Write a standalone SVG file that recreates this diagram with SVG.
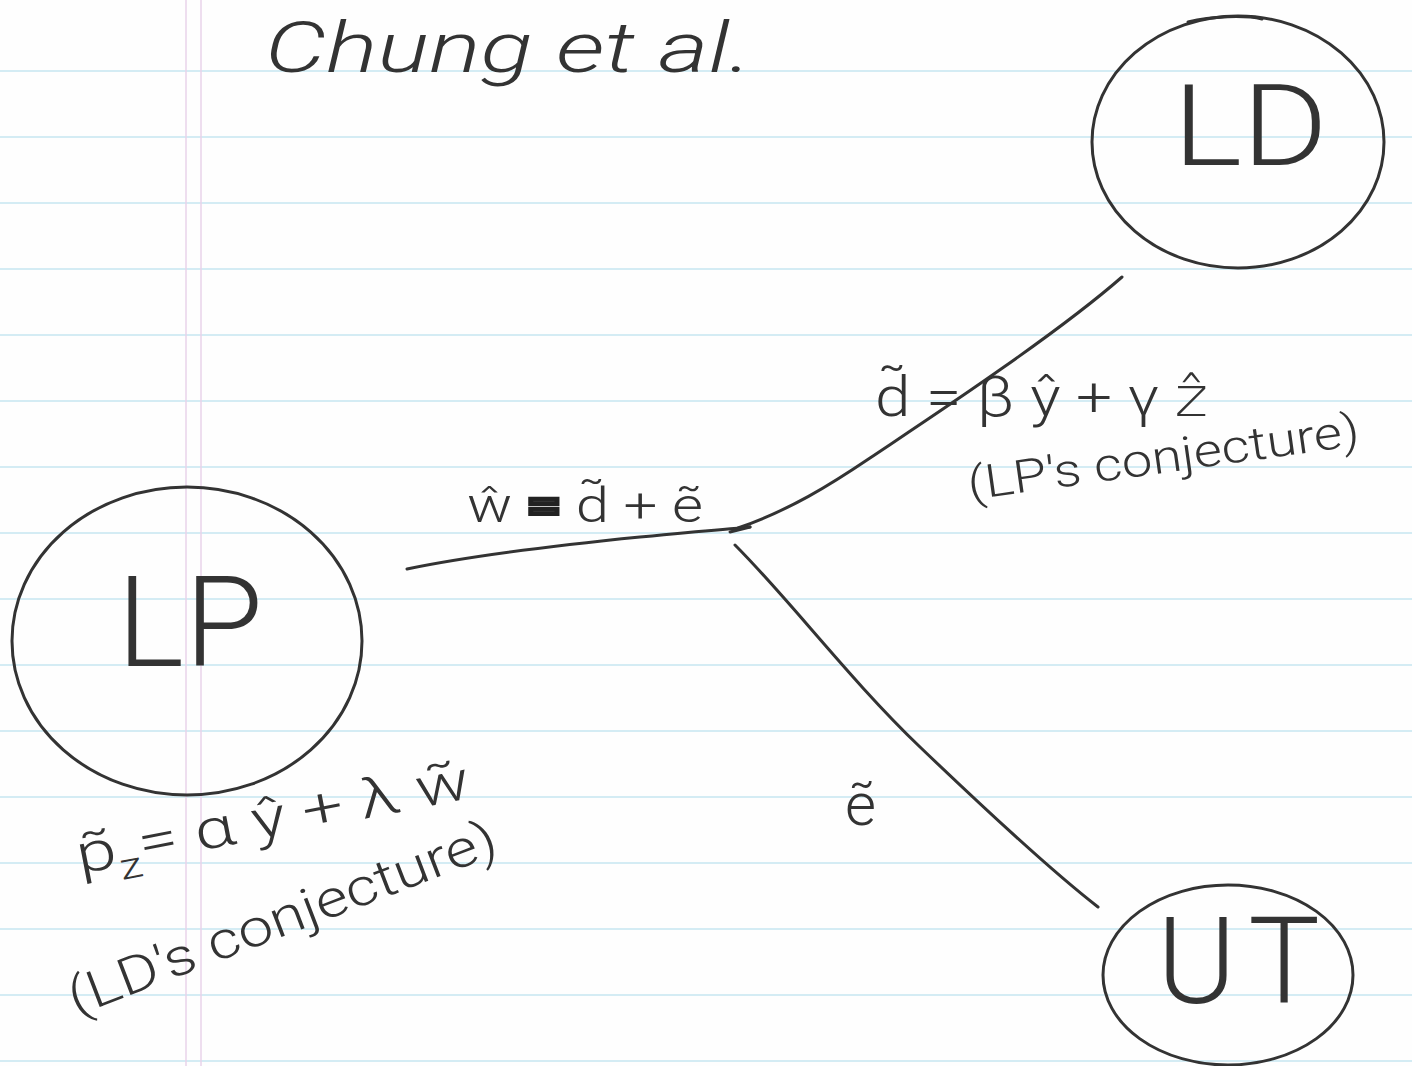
<svg xmlns="http://www.w3.org/2000/svg" width="1412" height="1066" viewBox="0 0 1412 1066">
  <style>
    .rule { stroke: #c6e6f0; stroke-width: 1.5; }
    .margin { stroke: #e8d3ea; stroke-width: 1.5; }
    .ink { fill: none; stroke: #333; stroke-width: 3; stroke-linecap: round; stroke-linejoin: round; }
    .hand { font-family: Roboto, "DejaVu Sans", sans-serif; font-weight: 300; fill: #333; }
  </style>
  <rect width="1412" height="1066" fill="#fefefe"/>
  <g id="paper">
    <line class="rule" x1="0" y1="71" x2="1412" y2="71"/>
    <line class="rule" x1="0" y1="137" x2="1412" y2="137"/>
    <line class="rule" x1="0" y1="203" x2="1412" y2="203"/>
    <line class="rule" x1="0" y1="269" x2="1412" y2="269"/>
    <line class="rule" x1="0" y1="335" x2="1412" y2="335"/>
    <line class="rule" x1="0" y1="401" x2="1412" y2="401"/>
    <line class="rule" x1="0" y1="467" x2="1412" y2="467"/>
    <line class="rule" x1="0" y1="533" x2="1412" y2="533"/>
    <line class="rule" x1="0" y1="599" x2="1412" y2="599"/>
    <line class="rule" x1="0" y1="665" x2="1412" y2="665"/>
    <line class="rule" x1="0" y1="731" x2="1412" y2="731"/>
    <line class="rule" x1="0" y1="797" x2="1412" y2="797"/>
    <line class="rule" x1="0" y1="863" x2="1412" y2="863"/>
    <line class="rule" x1="0" y1="929" x2="1412" y2="929"/>
    <line class="rule" x1="0" y1="995" x2="1412" y2="995"/>
    <line class="rule" x1="0" y1="1061" x2="1412" y2="1061"/>
    <line class="margin" x1="186" y1="0" x2="186" y2="1066"/>
    <line class="margin" x1="201" y1="0" x2="201" y2="1066"/>
  </g>

  <text id="title" class="hand" x="265" y="72" font-size="70" font-style="italic" textLength="487" lengthAdjust="spacingAndGlyphs">Chung et al.</text>

  <g id="connectors">
    <path class="ink" d="M407,569 C470,556 560,545 640,537 S720,530 750,527"/>
    <path class="ink" d="M730,532 L750,527"/>
    <path class="ink" d="M738,528 C790,510 830,485 870,458 S1050,340 1122,277"/>
    <path class="ink" d="M735,545 C790,600 850,680 920,747 S1050,870 1098,907"/>
  </g>

  <g id="node-LD">
    <ellipse class="ink" cx="1238" cy="142" rx="146" ry="126"/>
    <path class="ink" d="M1188,22 C1212,16 1245,15 1262,19"/>
    <text class="hand" x="1173" y="165" font-size="113" textLength="155" lengthAdjust="spacingAndGlyphs">LD</text>
  </g>

  <g id="node-LP">
    <ellipse class="ink" cx="187" cy="641" rx="175" ry="154"/>
    <text class="hand" x="117" y="666" font-size="127" textLength="146" lengthAdjust="spacing">LP</text>
  </g>

  <g id="node-UT">
    <ellipse class="ink" cx="1228" cy="975" rx="125" ry="90"/>
    <text class="hand" x="1157" y="1003" font-size="120" textLength="163" lengthAdjust="spacing">UT</text>
  </g>

  <g id="labels">
    <text class="hand" x="467" y="522" font-size="48" textLength="236" lengthAdjust="spacingAndGlyphs">ŵ <tspan stroke="#222" stroke-width="4" font-weight="700">=</tspan> d̃ + ẽ</text>
    <text class="hand" x="875" y="416" font-size="56" textLength="333" lengthAdjust="spacingAndGlyphs">d̃ = β ŷ + γ ẑ</text>
    <text class="hand" x="970" y="500" font-size="46" transform="rotate(-8 970 500)" textLength="395" lengthAdjust="spacingAndGlyphs">(LP's conjecture)</text>
    <text class="hand" x="845" y="825" font-size="60">ẽ</text>
    <text class="hand" x="80" y="874" font-size="55" transform="rotate(-11 80 874)" textLength="400" lengthAdjust="spacingAndGlyphs">p̃<tspan font-size="36" dy="14">z</tspan><tspan dy="-14">= α ŷ + λ w̃</tspan></text>
    <text class="hand" x="76" y="1016" font-size="52" transform="rotate(-21 76 1016)" textLength="455" lengthAdjust="spacingAndGlyphs">(LD's conjecture)</text>
  </g>
</svg>
